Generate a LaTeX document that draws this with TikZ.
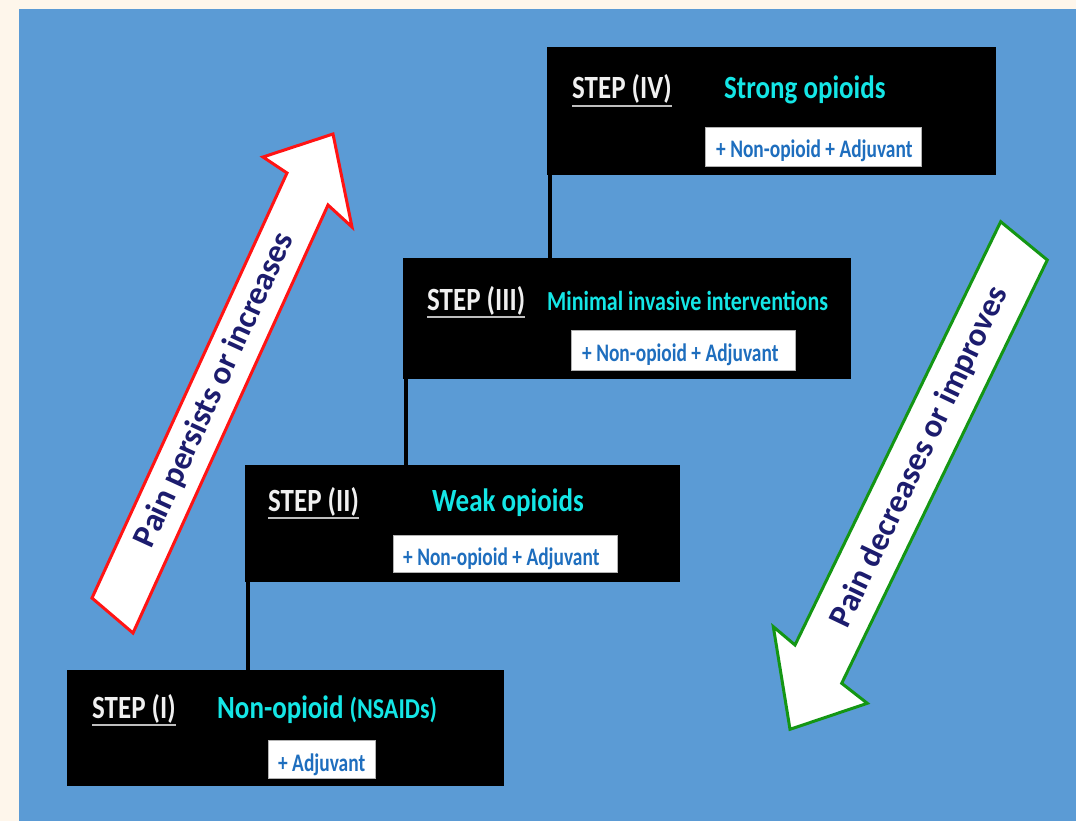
\documentclass[tikz,border=0pt]{standalone}
\usepackage{fontspec}
\usepackage{graphicx}
\setmainfont{Carlito}
\definecolor{cream}{RGB}{254,246,235}
\definecolor{bgblue}{RGB}{91,155,213}
\definecolor{cyantxt}{RGB}{20,230,230}
\definecolor{smallblue}{RGB}{30,110,190}
\definecolor{navy}{RGB}{28,28,110}
\definecolor{stepwhite}{RGB}{240,240,240}
\definecolor{ulgray}{RGB}{190,190,190}
\definecolor{arrred}{RGB}{255,20,20}
\definecolor{arrgreen}{RGB}{20,150,20}
\newcommand{\tallbig}[1]{\scalebox{1}[1.2]{#1}}
\newcommand{\tallsmall}[1]{\scalebox{1}[1.3]{#1}}
\tikzset{
  stepbox/.style={draw=black, fill=black, line width=1pt, rectangle, inner sep=0pt, anchor=north west},
  whitebox/.style={draw=gray!60, fill=white, line width=0.8pt, rectangle, inner sep=0pt, anchor=north west},
  steplbl/.style={anchor=base west, inner sep=0pt, text=stepwhite, font=\fontsize{27}{27}\selectfont\bfseries},
  druglbl/.style={anchor=base west, inner sep=0pt, text=cyantxt, font=\fontsize{27}{27}\selectfont\bfseries},
  smalllbl/.style={anchor=base west, inner sep=0pt, text=smallblue, font=\fontsize{19.4}{19.4}\selectfont\bfseries},
  uline/.style={draw=ulgray, line width=2pt},
  conn/.style={draw=black, line width=4pt},
  arrowtxt/.style={text=navy, inner sep=0pt, font=\fontsize{33}{33}\selectfont\bfseries},
  uparrow/.style={draw=arrred, fill=white, line width=3pt, line join=miter},
  downarrow/.style={draw=arrgreen, fill=white, line width=3pt, line join=miter}
}
\begin{document}
\begin{tikzpicture}[x=1pt, y=-1pt]
\useasboundingbox (0,0) rectangle (1076,821);
\fill[cream] (0,0) rectangle (1076,821);
\fill[bgblue] (19,9) rectangle (1076,821);

% step boxes
\node[stepbox, minimum width=448pt, minimum height=127pt] (b4) at (547,47) {};
\node[stepbox, minimum width=447pt, minimum height=120pt] (b3) at (403,258) {};
\node[stepbox, minimum width=434pt, minimum height=116pt] (b2) at (245,465) {};
\node[stepbox, minimum width=436pt, minimum height=115pt] (b1) at (67,670) {};

% connectors (left edges running down)
\draw[conn] ([xshift=2.5pt]b4.south west) -- ([xshift=2.5pt]b4.south west |- b3.north);
\draw[conn] ([xshift=2.5pt]b3.south west) -- ([xshift=2.5pt]b3.south west |- b2.north);
\draw[conn] ([xshift=2.5pt]b2.south west) -- ([xshift=2.5pt]b2.south west |- b1.north);

% white boxes
\node[whitebox, minimum width=216pt, minimum height=39pt] (w4) at (705,127) {};
\node[whitebox, minimum width=224pt, minimum height=40pt] (w3) at (571,330) {};
\node[whitebox, minimum width=224pt, minimum height=37pt] (w2) at (393,535) {};
\node[whitebox, minimum width=107pt, minimum height=38pt] (w1) at (268,740) {};

% STEP IV
\node[steplbl] (s4) at (572,99) {\tallbig{STEP (IV)}};
\draw[uline] ([yshift=-7.5pt]s4.base west) -- ([yshift=-7.5pt]s4.base east);
\node[druglbl] (d4) at (724,99) {\tallbig{Strong opioids}};
\node[smalllbl] (a4) at (716,158) {\tallsmall{+ Non-opioid + Adjuvant}};

% STEP III
\node[steplbl] (s3) at (427,310) {\tallbig{STEP (III)}};
\draw[uline] ([yshift=-6.5pt]s3.base west) -- ([yshift=-6.5pt]s3.base east);
\node[druglbl, font=\fontsize{22}{22}\selectfont\bfseries] (d3) at (547,310) {\scalebox{1}[1.25]{Minimal invasive interventions}};
\node[smalllbl] (a3) at (582,361) {\tallsmall{+ Non-opioid + Adjuvant}};

% STEP II
\node[steplbl] (s2) at (268,511) {\tallbig{STEP (II)}};
\draw[uline] ([yshift=-7pt]s2.base west) -- ([yshift=-7pt]s2.base east);
\node[druglbl] (d2) at (432,511) {\tallbig{Weak opioids}};
\node[smalllbl] (a2) at (403,565) {\tallsmall{+ Non-opioid + Adjuvant}};

% STEP I
\node[steplbl] (s1) at (92,718) {\tallbig{STEP (I)}};
\draw[uline] ([yshift=-7pt]s1.base west) -- ([yshift=-7pt]s1.base east);
\node[druglbl] (d1) at (217,718) {\tallbig{Non-opioid {\fontsize{24}{24}\selectfont(NSAIDs)}}};
\node[smalllbl] (a1) at (278,771) {\tallsmall{+ Adjuvant}};

% block arrows
\draw[uparrow] (92,598) -- (287,173) -- (263,157) -- (333,134) -- (352,227) -- (328,205) -- (133,633) -- cycle;
\draw[downarrow] (1000.7,221.7) -- (1047.3,260) -- (841.7,683.3) -- (867.3,703.3) -- (790,729.3) -- (773.3,626.7) -- (795,645) -- cycle;

\node[arrowtxt, rotate=65.4] (t1) at (215,390) {Pain persists or increases};
\node[arrowtxt, rotate=64.5] (t2) at (920,457) {Pain decreases or improves};
\end{tikzpicture}
\end{document}
